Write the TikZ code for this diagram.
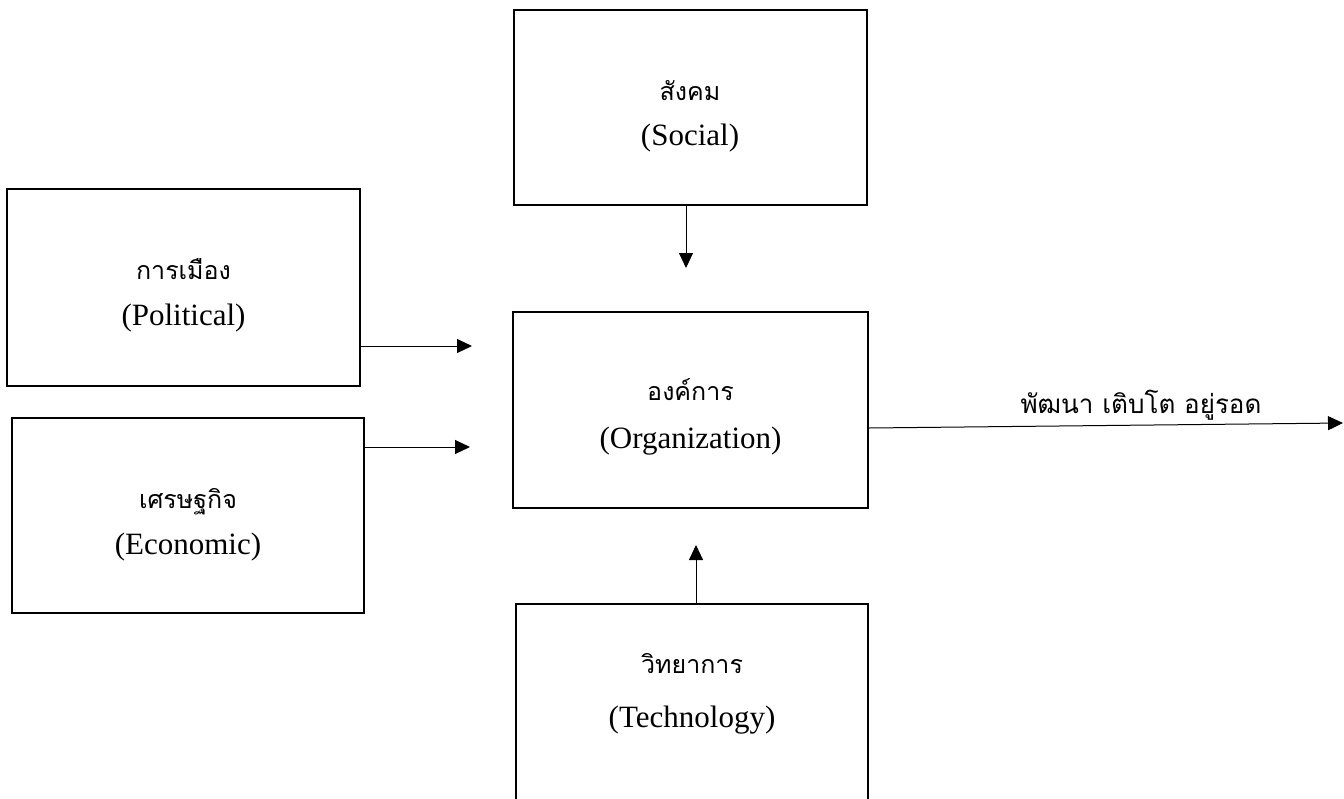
\documentclass[tikz,border=0pt]{standalone}
\usepackage{fontspec}
\setmainfont{Liberation Serif}
\newfontfamily\thaifont[Script=Thai]{Loma}
\usetikzlibrary{arrows.meta}
\tikzset{
  box/.style={draw, line width=1pt, inner sep=0pt, minimum width=176.5pt, minimum height=97.5pt},
  en/.style={anchor=base, inner sep=0pt, font=\fontsize{15.5pt}{18pt}\selectfont},
  th/.style={anchor=base, inner sep=0pt, font=\thaifont\fontsize{12.5pt}{16pt}\selectfont},
  arr/.style={line width=0.5pt, -{Triangle[length=7.5pt,width=7pt]}}
}
\begin{document}
\begin{tikzpicture}[x=0.5pt,y=-0.5pt]
\useasboundingbox (0,0) rectangle (1344,798);
\clip (0,0) rectangle (1344,798);
% boxes
\node[box] (soc) at (690.5,107.5) {};
\node[box, minimum height=98.5pt] (pol) at (183.5,287.5) {};
\node[box, minimum width=176pt] (eco) at (188,515.5) {};
\node[box, minimum width=177.5pt, minimum height=98pt] (org) at (690.5,410) {};
\node[box, minimum width=176pt, minimum height=100pt] (tech) at (692,704) {};
% texts
\node[th] (socth) at (690,100) {สังคม};
\node[en] (socen) at (690,145) {(Social)};
\node[th] (polth) at (183.5,279) {การเมือง};
\node[en] (polen) at (183.5,325) {(Political)};
\node[th] (ecoth) at (188,508) {เศรษฐกิจ};
\node[en] (ecoen) at (188,554) {(Economic)};
\node[th] (orgth) at (690.5,400) {องค์การ};
\node[en] (orgen) at (690.5,448) {(Organization)};
\node[th] (techth) at (692,673) {วิทยาการ};
\node[en] (techen) at (692,727) {(Technology)};
% arrows
\coordinate (sT) at (686,268);
\draw[arr] (soc.south -| sT) -- (sT);
\coordinate (pT) at (472,346);
\draw[arr] (pol.east |- pT) -- (pT);
\coordinate (eT) at (470,447);
\draw[arr] (eco.east |- eT) -- (eT);
\coordinate (tT) at (696,545);
\draw[arr] (tech.north -| tT) -- (tT);
\coordinate (oT) at (1343,423);
\draw[arr] ([yshift=-9pt]org.east) -- (oT);
\node[th, font=\thaifont\fontsize{13pt}{16pt}\selectfont] (lbl) at (1141,413) {พัฒนา เติบโต อยู่รอด};
\end{tikzpicture}
\end{document}
